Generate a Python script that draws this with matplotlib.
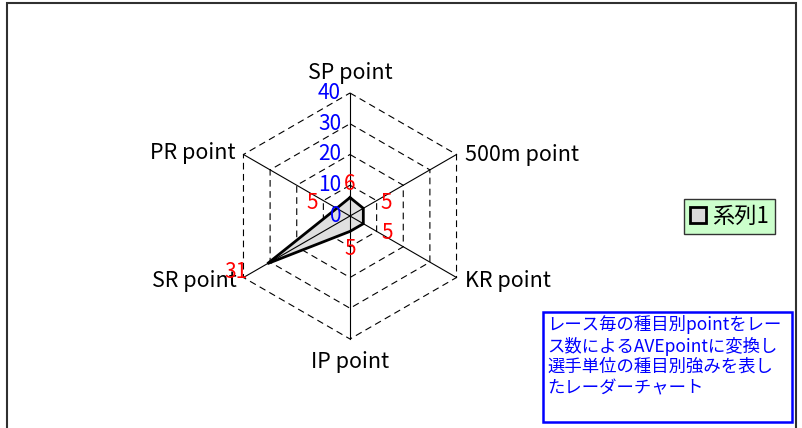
"""
Radar chart of average points per event type.
"""

import numpy as np
import matplotlib
matplotlib.use('Agg')
import matplotlib.pyplot as plt
from matplotlib.patches import Rectangle, Patch, Polygon

plt.rcParams['font.family'] = ['Noto Sans CJK JP', 'DejaVu Sans']

# data
categories = ['SP point', '500m point', 'KR point', 'IP point', 'SR point', 'PR point']
values = [6, 5, 5, 5, 31, 5]
ring_levels = [0, 10, 20, 30, 40]
series_name = '系列1'
note_lines = ['レース毎の種目別pointをレー',
              'ス数によるAVEpointに変換し',
              '選手単位の種目別強みを表し',
              'たレーダーチャート']

# label placement (pixels, relative to the anchor point)
axis_label_offsets = [(0, 20), (8, -1), (8, -4), (0, -23), (-7, -4), (-8, 1)]
axis_label_ha = ['center', 'left', 'left', 'center', 'right', 'right']
value_label_offsets = [(0, 14), (23, 5), (24, -9), (0, -18), (-31, -8), (-24, 5)]

W, H = 802, 428
fig = plt.figure(figsize=(W / 100, H / 100), dpi=100)
ax = fig.add_axes([0, 0, 1, 1])

# map data units to pixels: centre at (350, 216), radius 40 -> 123 px
cx, cy, R = 350, 216, 123
scale = R / ring_levels[-1]
ax.set_xlim(-cx / scale, (W - cx) / scale)
ax.set_ylim(-(H - cy) / scale, cy / scale)
ax.axis('off')

n = len(categories)
angles = np.deg2rad(90 - 360 / n * np.arange(n))
ux, uy = np.cos(angles), np.sin(angles)
rmax = ring_levels[-1]

# dashed hexagon rings
for lvl in ring_levels[1:]:
    ax.plot(np.append(ux, ux[0]) * lvl, np.append(uy, uy[0]) * lvl,
            color='black', lw=0.8, ls=(0, (6, 4)), zorder=1)

# data polygon
vx, vy = ux * np.array(values), uy * np.array(values)
ax.add_patch(Polygon(np.column_stack([vx, vy]), closed=True,
                     facecolor='#E0E0E0', edgecolor='none', zorder=2))

# spokes
for i in range(n):
    ax.plot([0, ux[i] * rmax], [0, uy[i] * rmax], color='black', lw=0.8, zorder=3)

ax.plot(np.append(vx, vx[0]), np.append(vy, vy[0]), color='black', lw=2.0,
        solid_joinstyle='miter', zorder=4)

# axis labels
for i, name in enumerate(categories):
    ax.annotate(name, (ux[i] * rmax, uy[i] * rmax), xytext=axis_label_offsets[i],
                textcoords='offset pixels', ha=axis_label_ha[i], va='center',
                fontsize=15.5, color='black')

# ring value labels along the first axis
for lvl in ring_levels:
    ax.annotate(str(lvl), (0, lvl), xytext=(-9, 0), textcoords='offset pixels',
                ha='right', va='center', fontsize=15, color='#0000FF', zorder=5)

# data labels
for i, v in enumerate(values):
    ax.annotate(str(v), (vx[i], vy[i]), xytext=value_label_offsets[i],
                textcoords='offset pixels', ha='center', va='center',
                fontsize=15, color='#FF0000', zorder=6)

# chart frame
fig.patches.append(Rectangle((7 / W, -0.1), (796 - 7) / W, 1.1 - 3 / H,
                             transform=fig.transFigure, fill=False,
                             edgecolor='#303030', lw=1.5))

# legend
handle = Patch(facecolor='#D9D9D9', edgecolor='black', lw=2, label=series_name)
leg = fig.legend(handles=[handle], loc='center',
                 bbox_to_anchor=(729.5 / W, 1 - 216.5 / H),
                 fontsize=16, fancybox=False, framealpha=1,
                 handlelength=0.7, handleheight=0.7, handletextpad=0.3,
                 borderpad=0.25, borderaxespad=0)
leg.get_frame().set_facecolor('#CCFFCC')
leg.get_frame().set_edgecolor('#333333')
leg.get_frame().set_linewidth(1.0)

# note box
fig.patches.append(Rectangle((543 / W, 1 - 422 / H), (792 - 543) / W, (422 - 312) / H,
                             transform=fig.transFigure, fill=False,
                             edgecolor='#0000FF', lw=1.8))
for k, line in enumerate(note_lines):
    fig.text(547 / W, 1 - (325 + 21 * k) / H, line, ha='left', va='center',
             fontsize=12.5, color='#0000FF')

fig.savefig('out.png', dpi=100)
